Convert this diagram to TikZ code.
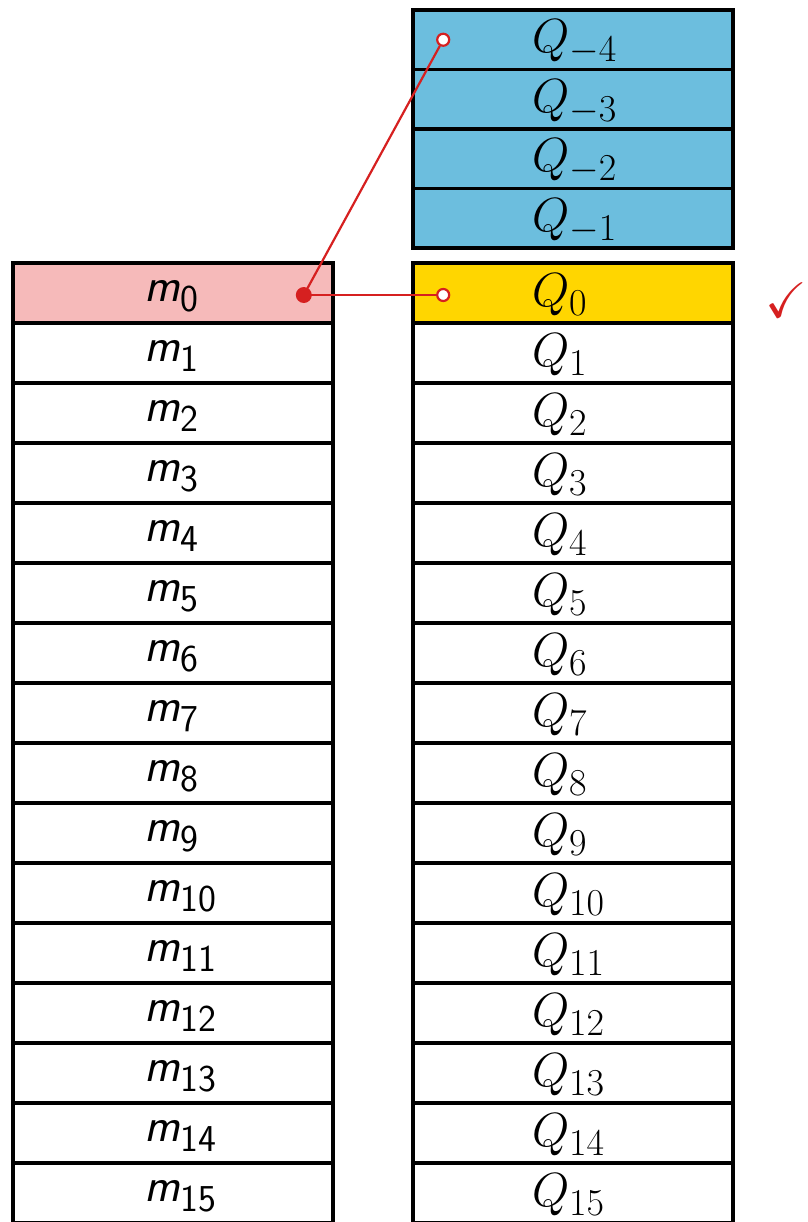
\RequirePackage{fix-cm}
\documentclass[tikz,border=0pt]{standalone}
\usepackage{amssymb}
\usetikzlibrary{calc}
\definecolor{pinkfill}{RGB}{246,186,186}
\definecolor{bluefill}{RGB}{108,190,222}
\definecolor{yellowfill}{RGB}{255,214,0}
\definecolor{linkred}{RGB}{214,32,32}
\newcommand\mlab[1]{{\fontsize{24}{24}\selectfont\sffamily\itshape m}\raisebox{-5pt}{\fontsize{19}{19}\selectfont\sffamily #1}}
\newcommand\qlab[1]{{\fontsize{24}{24}\selectfont$Q$}\raisebox{-4.5pt}{\fontsize{19}{19}\selectfont$#1$}}
\tikzset{
  cell/.style={draw=black, line width=1.8pt, inner sep=0pt, minimum height=30pt},
  mcell/.style={cell, text height=13pt, text depth=5pt},
  qcell/.style={cell, text height=18pt, text depth=5pt},
  bluecell/.style={qcell, fill=bluefill, minimum height=29.75pt},
  link/.style={draw=linkred, line width=1.1pt},
  opendot/.style={circle, draw=linkred, fill=white, line width=1.1pt, inner sep=0pt, minimum size=6pt},
  soliddot/.style={circle, fill=linkred, inner sep=0pt, minimum size=8pt},
}
\begin{document}
\begin{tikzpicture}[x=0.5pt,y=-0.5pt]
\useasboundingbox (0,0) rectangle (808,1222);
\clip (0,0) rectangle (808,1222);
% left column
\node[mcell, fill=pinkfill] (m0) at (173,293) {\makebox[160pt][l]{\hspace{66pt}\mlab{0}}};
\foreach \i in {1,...,15} {
  \node[mcell, fill=white] (m\i) at (173,{293+60*\i}) {\makebox[160pt][l]{\hspace{66pt}\mlab{\i}}};
}
% right column
\foreach \k/\n in {4/0,3/1,2/2,1/3} {
  \node[bluecell] (Qm\k) at (573,{39.75+59.5*\n}) {\makebox[160pt][l]{\hspace{59.5pt}\qlab{-\k}}};
}
\node[qcell, fill=yellowfill] (Q0) at (573,293) {\makebox[160pt][l]{\hspace{59.5pt}\qlab{0}}};
\foreach \i in {1,...,15} {
  \node[qcell, fill=white] (Q\i) at (573,{293+60*\i}) {\makebox[160pt][l]{\hspace{59.5pt}\qlab{\i}}};
}
% links
\node[soliddot] (dot) at ($(m0.east)+(-31,2)$) {};
\node[opendot] (c0) at ($(Q0.west)+(32,2)$) {};
\node[opendot] (c4) at ($(Qm4.west)+(32,0)$) {};
\draw[link] (dot.center) -- (c0);
\draw[link] (dot.center) -- (c4);
% check mark
\node[text=linkred, inner sep=0pt] (check) at (786,300) {\fontsize{25}{25}\selectfont$\checkmark$};
\end{tikzpicture}
\end{document}
